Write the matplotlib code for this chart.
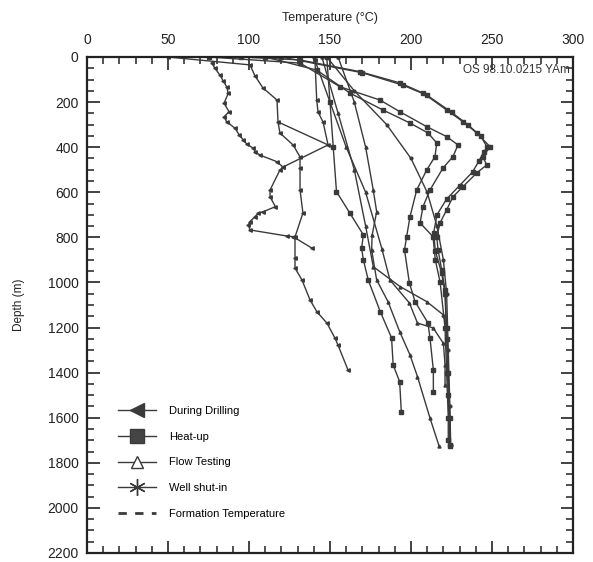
import matplotlib
matplotlib.use("Agg")
import matplotlib.pyplot as plt
from matplotlib.lines import Line2D
from matplotlib.ticker import MultipleLocator

plt.rcParams['font.family'] = ['Liberation Sans', 'DejaVu Sans']

# ---- data (temperature degC, depth m) ----
drill_a_t = [77, 79, 82, 84, 86.2, 87.2, 84.6, 87.7, 84.6, 86.2, 91.4, 94.0, 96.5, 98.6, 102.7, 103.7, 106.8, 117.1, 121.0]
drill_a_d = [27, 50, 80, 105, 132, 161, 205, 243, 265, 287, 316, 346, 368, 386, 405, 420, 435, 464, 488]

drill_c_t = [140.7, 141.8, 142.6, 145.7, 148.8, 121.0, 119.1, 113.0, 113.0, 116.3, 108.8, 105.7, 103.7, 100.6, 99.6, 100.6, 123.3, 127.2, 138.7]
drill_c_d = [13, 191, 244, 288, 390, 488, 501, 590, 620, 664, 686, 693, 708, 730, 745, 767, 794, 797, 847]

drill_b_t = [50, 100.6, 103.7, 108.6, 117.3, 117.9, 119.1, 127.2, 131.5, 131.5, 131.5, 133.3, 128.4, 128.4, 128.4, 132.7, 137.7, 142.0, 148.1, 153.0, 154.9, 161.1]
drill_b_d = [0, 35, 84, 137, 191, 288, 337, 390, 443, 492, 590, 692, 798, 891, 936, 989, 1078, 1131, 1180, 1246, 1277, 1388]

spike_t = [117.9, 148.8]
spike_d = [288, 390]

flow_f_t = [148, 150, 152, 154, 162.3, 170.6, 169.5, 170.6, 173.6, 181, 188, 189, 193, 194]
flow_f_d = [0, 200, 400, 597, 693, 789, 848, 900, 989, 1129, 1246, 1366, 1440, 1573]

flow_g_t = [155, 165, 172, 176.7, 178.8, 176, 175.7, 178.8, 185.8, 193, 199.4, 204, 211.7, 217.3]
flow_g_d = [0, 200, 400, 590, 686, 790, 856, 989, 1085, 1218, 1322, 1418, 1601, 1725]

flow_i_t = [140, 150, 160, 172, 182, 187, 199, 204, 213.7, 220, 221, 221]
flow_i_d = [0, 200, 400, 600, 850, 989, 1091, 1180, 1202, 1270, 1366, 1455]

flow_j_t = [145, 155, 165, 172, 176.7, 193.2, 209.7, 220, 222]
flow_j_d = [0, 250, 500, 750, 930, 1018, 1085, 1144, 1200]

shut_d1_t = [148, 165, 185, 200, 210, 216, 220, 222, 223, 224, 224.5]
shut_d1_d = [0, 150, 300, 450, 600, 750, 900, 1050, 1300, 1550, 1720]

heat_1_t = [95, 131.5, 168.5, 193.2, 207.4, 222.0, 232.1, 240.6, 248.8, 244.4, 246.7, 240.6, 232.1, 225.9, 222.0, 217.9, 215.9, 216.7, 219.0, 221.0, 222, 223, 224, 224]
heat_1_d = [0, 13, 65, 115, 160, 235, 287, 337, 398, 442, 479, 514, 575, 620, 678, 736, 797, 856, 945, 1033, 1200, 1400, 1600, 1725]

heat_2_t = [120, 170, 195, 210, 225, 235, 243, 247, 245, 242, 238, 230, 222, 216, 214, 215, 219, 221, 222, 223, 224]
heat_2_d = [0, 70, 125, 170, 245, 300, 350, 400, 420, 460, 510, 570, 630, 700, 780, 860, 960, 1050, 1250, 1500, 1720]

heat_3_t = [75, 131.5, 156.2, 180.9, 193.2, 209.7, 222.0, 229.0, 225.9, 219.8, 211.7, 207.4, 205.6, 213.6, 215, 218, 221, 222, 223, 223]
heat_3_d = [0, 27, 132, 191, 243, 309, 353, 390, 442, 492, 590, 664, 736, 797, 900, 1000, 1200, 1400, 1600, 1700]

heat_4_t = [110, 141.8, 162.3, 182.7, 199.4, 210.5, 215.9, 214.8, 209.7, 203.5, 199.4, 197.3, 196, 199, 202.5, 210.5, 211.7, 213.8, 213.8]
heat_4_d = [0, 58, 160, 235, 293, 337, 381, 442, 501, 590, 708, 797, 856, 1002, 1085, 1180, 1246, 1388, 1484]

legend_labels = ["During Drilling", "Heat-up", "Flow Testing", "Well shut-in", "Formation Temperature"]
annotation = "OS 98.10.0215 YAm"

# ---- figure ----
fig = plt.figure(figsize=(5.93, 5.62), dpi=100)
ax = fig.add_axes([87/593, 1-553/562, 486/593, 496/562])

ink = '#3a3a3a'
lw = 1.0
drill_style = dict(color=ink, lw=lw, marker='<', ms=2.5)
heat_style = dict(color=ink, lw=lw, marker='s', ms=2.4)
flow_style = dict(color=ink, lw=lw, marker='^', ms=2.2)
shut_style = dict(color=ink, lw=lw, marker='o', ms=2.0)

ax.plot(drill_a_t, drill_a_d, **drill_style)
ax.plot(drill_c_t, drill_c_d, **drill_style)
ax.plot(drill_b_t, drill_b_d, **drill_style)
ax.plot(spike_t, spike_d, color=ink, lw=lw)
ax.plot(flow_f_t, flow_f_d, **heat_style)
ax.plot(flow_g_t, flow_g_d, **flow_style)
ax.plot(flow_i_t, flow_i_d, **flow_style)
ax.plot(flow_j_t, flow_j_d, **flow_style)
ax.plot(shut_d1_t, shut_d1_d, **shut_style)
ax.plot(heat_1_t, heat_1_d, **heat_style)
ax.plot(heat_2_t, heat_2_d, **heat_style)
ax.plot(heat_3_t, heat_3_d, **heat_style)
ax.plot(heat_4_t, heat_4_d, **heat_style)

ax.set_xlim(0, 300)
ax.set_ylim(2200, 0)
ax.xaxis.set_major_locator(MultipleLocator(50))
ax.xaxis.set_minor_locator(MultipleLocator(10))
ax.yaxis.set_major_locator(MultipleLocator(200))
ax.yaxis.set_minor_locator(MultipleLocator(50))
ax.tick_params(axis='both', which='both', direction='in', top=True, bottom=True,
               left=True, right=True, labeltop=True, labelbottom=False,
               labelleft=True, labelright=False, colors='#222222', labelsize=10)
ax.tick_params(axis='both', which='major', length=9, width=1.2)
ax.tick_params(axis='both', which='minor', length=5, width=1.1)
ax.tick_params(axis='x', pad=7)
ax.tick_params(axis='y', pad=6)
ax.xaxis.set_label_position('top')
ax.set_xlabel("Temperature (°C)", fontsize=9, labelpad=9, color='#222222')
ax.set_ylabel("Depth (m)", fontsize=8.5, labelpad=16, color='#222222')
for s in ax.spines.values():
    s.set_linewidth(1.6)
    s.set_color('#222222')

ax.text(0.994, 0.974, annotation, transform=ax.transAxes, ha='right', va='center',
        fontsize=8.5, color='#333333')

handles = [
    Line2D([], [], color=ink, lw=1, marker='<', ms=10, mfc=ink),
    Line2D([], [], color=ink, lw=1, marker='s', ms=10, mfc='#444444'),
    Line2D([], [], color=ink, lw=1, marker='^', ms=9, mfc='white'),
    Line2D([], [], color=ink, lw=1, marker=(6, 2, 0), ms=12, mew=1.0),
    Line2D([], [], color=ink, lw=2, ls=(0, (3, 3))),
]
leg = ax.legend(handles, legend_labels, loc='upper left', bbox_to_anchor=(0.052, 0.307),
                frameon=False, fontsize=8, handlelength=3.4, handletextpad=1.2,
                labelspacing=1.4, borderpad=0)

fig.savefig("out.png", dpi=100)
